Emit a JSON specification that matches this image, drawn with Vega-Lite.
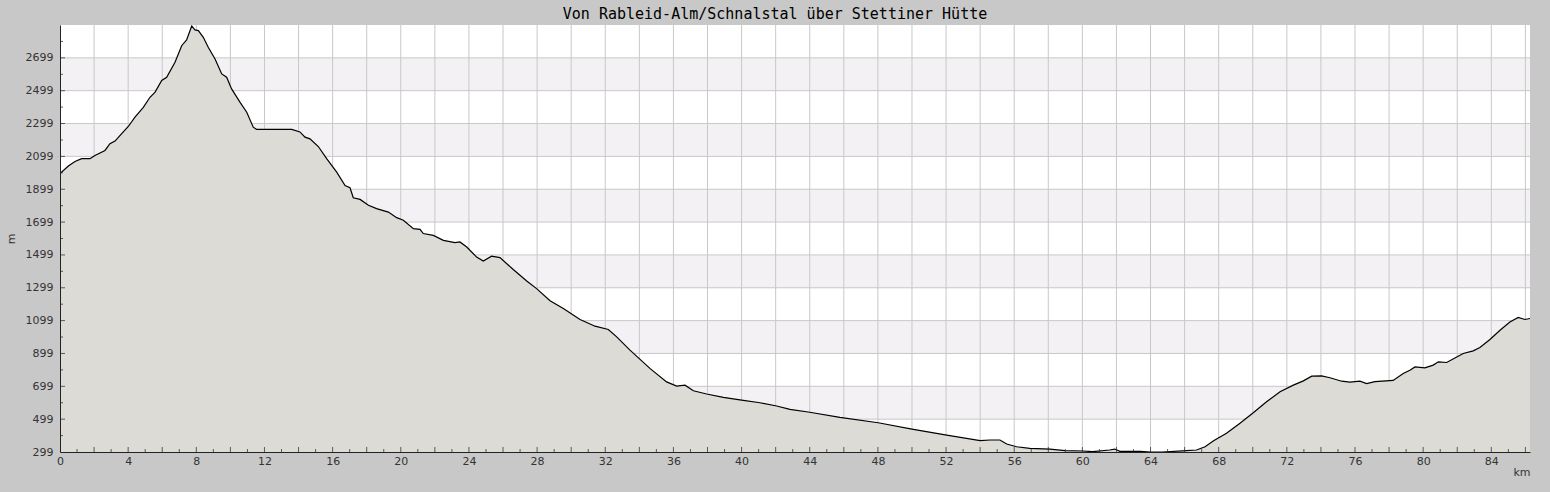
{
  "$schema": "https://vega.github.io/schema/vega-lite/v6.json",
  "width": 1470,
  "height": 427,
  "autosize": {"type": "none"},
  "padding": {"left": 60, "top": 25, "right": 20, "bottom": 40},
  "background": "#c8c8c8",
  "view": {"fill": "#ffffff", "stroke": null},
  "config": {"axis": {"labelOverlap": false}},
  "title": {
    "text": "Von Rableid-Alm/Schnalstal über Stettiner Hütte",
    "font": "DejaVu Sans Mono",
    "fontSize": 15,
    "fontWeight": "normal",
    "color": "#000000",
    "anchor": "middle",
    "dx": -20,
    "offset": 3
  },
  "datasets": {
    "profile": [
      {"km": 0, "elev": 1995}, {"km": 0.49, "elev": 2040}, {"km": 0.88, "elev": 2068}, {"km": 1.27, "elev": 2085},
      {"km": 1.76, "elev": 2085}, {"km": 2.05, "elev": 2105}, {"km": 2.64, "elev": 2135}, {"km": 2.93, "elev": 2176},
      {"km": 3.23, "elev": 2192}, {"km": 3.62, "elev": 2237}, {"km": 4.01, "elev": 2281}, {"km": 4.4, "elev": 2338},
      {"km": 4.89, "elev": 2398}, {"km": 5.28, "elev": 2459}, {"km": 5.58, "elev": 2490}, {"km": 5.97, "elev": 2561},
      {"km": 6.26, "elev": 2581}, {"km": 6.75, "elev": 2672}, {"km": 7.14, "elev": 2773}, {"km": 7.43, "elev": 2808},
      {"km": 7.73, "elev": 2893}, {"km": 7.92, "elev": 2869}, {"km": 8.12, "elev": 2865}, {"km": 8.41, "elev": 2824},
      {"km": 8.7, "elev": 2763}, {"km": 9.1, "elev": 2692}, {"km": 9.49, "elev": 2601}, {"km": 9.78, "elev": 2581},
      {"km": 10.07, "elev": 2510}, {"km": 10.56, "elev": 2429}, {"km": 10.96, "elev": 2368}, {"km": 11.34, "elev": 2277},
      {"km": 11.54, "elev": 2263}, {"km": 13.6, "elev": 2263}, {"km": 14.08, "elev": 2248}, {"km": 14.38, "elev": 2216},
      {"km": 14.67, "elev": 2206}, {"km": 15.16, "elev": 2159}, {"km": 15.65, "elev": 2085}, {"km": 16.24, "elev": 2003},
      {"km": 16.73, "elev": 1922}, {"km": 17.02, "elev": 1908}, {"km": 17.21, "elev": 1847}, {"km": 17.61, "elev": 1837},
      {"km": 18.1, "elev": 1801}, {"km": 18.58, "elev": 1781}, {"km": 19.27, "elev": 1760}, {"km": 19.76, "elev": 1726},
      {"km": 20.15, "elev": 1710}, {"km": 20.74, "elev": 1659}, {"km": 21.13, "elev": 1655}, {"km": 21.32, "elev": 1629},
      {"km": 21.91, "elev": 1618}, {"km": 22.5, "elev": 1588}, {"km": 23.18, "elev": 1574}, {"km": 23.47, "elev": 1578},
      {"km": 23.87, "elev": 1547}, {"km": 24.45, "elev": 1486}, {"km": 24.84, "elev": 1462}, {"km": 25.33, "elev": 1491},
      {"km": 25.82, "elev": 1483}, {"km": 26.6, "elev": 1410}, {"km": 27.39, "elev": 1340}, {"km": 27.97, "elev": 1294},
      {"km": 28.76, "elev": 1220}, {"km": 29.54, "elev": 1173}, {"km": 30.52, "elev": 1106}, {"km": 31.4, "elev": 1065},
      {"km": 32.18, "elev": 1045}, {"km": 32.67, "elev": 1000}, {"km": 33.45, "elev": 919}, {"km": 34.62, "elev": 808},
      {"km": 35.6, "elev": 726}, {"km": 36.19, "elev": 700}, {"km": 36.68, "elev": 706}, {"km": 37.17, "elev": 672},
      {"km": 37.95, "elev": 652}, {"km": 38.93, "elev": 632}, {"km": 40.0, "elev": 615}, {"km": 41.08, "elev": 599},
      {"km": 42.06, "elev": 579}, {"km": 42.84, "elev": 559}, {"km": 44.0, "elev": 541}, {"km": 45.77, "elev": 510},
      {"km": 48.02, "elev": 477}, {"km": 50.08, "elev": 437}, {"km": 52.04, "elev": 402}, {"km": 54.0, "elev": 368},
      {"km": 54.58, "elev": 372}, {"km": 55.16, "elev": 372}, {"km": 55.56, "elev": 348}, {"km": 56.14, "elev": 331},
      {"km": 56.92, "elev": 321}, {"km": 58.1, "elev": 317}, {"km": 58.98, "elev": 307}, {"km": 60.05, "elev": 305},
      {"km": 60.6, "elev": 301}, {"km": 61.6, "elev": 311}, {"km": 61.9, "elev": 317}, {"km": 62.2, "elev": 303},
      {"km": 63.4, "elev": 303}, {"km": 64.0, "elev": 299}, {"km": 64.7, "elev": 299}, {"km": 66.1, "elev": 307},
      {"km": 66.7, "elev": 311}, {"km": 67.2, "elev": 331}, {"km": 67.7, "elev": 368}, {"km": 68.46, "elev": 413},
      {"km": 69.25, "elev": 474}, {"km": 70.03, "elev": 538}, {"km": 70.81, "elev": 605}, {"km": 71.6, "elev": 666},
      {"km": 72.38, "elev": 706}, {"km": 72.97, "elev": 732}, {"km": 73.46, "elev": 761}, {"km": 74.04, "elev": 763},
      {"km": 74.53, "elev": 751}, {"km": 75.22, "elev": 730}, {"km": 75.7, "elev": 724}, {"km": 76.29, "elev": 730},
      {"km": 76.68, "elev": 716}, {"km": 77.17, "elev": 728}, {"km": 78.24, "elev": 735}, {"km": 78.83, "elev": 777},
      {"km": 79.22, "elev": 797}, {"km": 79.52, "elev": 817}, {"km": 80.1, "elev": 811}, {"km": 80.59, "elev": 828},
      {"km": 80.89, "elev": 848}, {"km": 81.38, "elev": 844}, {"km": 81.97, "elev": 878}, {"km": 82.35, "elev": 899},
      {"km": 82.94, "elev": 915}, {"km": 83.33, "elev": 935}, {"km": 83.92, "elev": 984}, {"km": 84.51, "elev": 1040},
      {"km": 85.09, "elev": 1091}, {"km": 85.58, "elev": 1118}, {"km": 85.97, "elev": 1106}, {"km": 86.27, "elev": 1112}
    ],
    "bands": [
      {"lo": 499, "hi": 699}, {"lo": 899, "hi": 1099}, {"lo": 1299, "hi": 1499},
      {"lo": 1699, "hi": 1899}, {"lo": 2099, "hi": 2299}, {"lo": 2499, "hi": 2699}
    ],
    "vgrid": [
      {"km": 0}, {"km": 2}, {"km": 4}, {"km": 6}, {"km": 8}, {"km": 10}, {"km": 12}, {"km": 14}, {"km": 16}, {"km": 18},
      {"km": 20}, {"km": 22}, {"km": 24}, {"km": 26}, {"km": 28}, {"km": 30}, {"km": 32}, {"km": 34}, {"km": 36}, {"km": 38},
      {"km": 40}, {"km": 42}, {"km": 44}, {"km": 46}, {"km": 48}, {"km": 50}, {"km": 52}, {"km": 54}, {"km": 56}, {"km": 58},
      {"km": 60}, {"km": 62}, {"km": 64}, {"km": 66}, {"km": 68}, {"km": 70}, {"km": 72}, {"km": 74}, {"km": 76}, {"km": 78},
      {"km": 80}, {"km": 82}, {"km": 84}, {"km": 86}
    ],
    "xminor": [
      {"km": 1}, {"km": 3}, {"km": 5}, {"km": 7}, {"km": 9}, {"km": 11}, {"km": 13}, {"km": 15}, {"km": 17}, {"km": 19},
      {"km": 21}, {"km": 23}, {"km": 25}, {"km": 27}, {"km": 29}, {"km": 31}, {"km": 33}, {"km": 35}, {"km": 37}, {"km": 39},
      {"km": 41}, {"km": 43}, {"km": 45}, {"km": 47}, {"km": 49}, {"km": 51}, {"km": 53}, {"km": 55}, {"km": 57}, {"km": 59},
      {"km": 61}, {"km": 63}, {"km": 65}, {"km": 67}, {"km": 69}, {"km": 71}, {"km": 73}, {"km": 75}, {"km": 77}, {"km": 79},
      {"km": 81}, {"km": 83}, {"km": 85}
    ],
    "hgrid": [
      {"elev": 499}, {"elev": 699}, {"elev": 899}, {"elev": 1099}, {"elev": 1299}, {"elev": 1499},
      {"elev": 1699}, {"elev": 1899}, {"elev": 2099}, {"elev": 2299}, {"elev": 2499}, {"elev": 2699}
    ],
    "yminor": [
      {"elev": 399}, {"elev": 599}, {"elev": 799}, {"elev": 999}, {"elev": 1199}, {"elev": 1399}, {"elev": 1599},
      {"elev": 1799}, {"elev": 1999}, {"elev": 2199}, {"elev": 2399}, {"elev": 2599}, {"elev": 2799}
    ]
  },
  "layer": [
    {
      "data": {"name": "bands"},
      "mark": {"type": "rect", "color": "#f3f1f4"},
      "encoding": {
        "y": {"field": "lo", "type": "quantitative", "scale": {"domain": [299, 2899], "nice": false, "zero": false}},
        "y2": {"field": "hi"}
      }
    },
    {
      "data": {"name": "vgrid"},
      "mark": {"type": "rule", "color": "#c8c8c8", "strokeWidth": 1},
      "encoding": {
        "x": {"field": "km", "type": "quantitative", "scale": {"domain": [0, 86.27], "nice": false, "zero": false}}
      }
    },
    {
      "data": {"name": "hgrid"},
      "mark": {"type": "rule", "color": "#c8c8c8", "strokeWidth": 1},
      "encoding": {
        "y": {"field": "elev", "type": "quantitative"}
      }
    },
    {
      "data": {"name": "profile"},
      "mark": {"type": "area", "color": "#dcdbd6", "clip": true},
      "encoding": {
        "x": {
          "field": "km", "type": "quantitative",
          "axis": {
            "title": "km",
            "titleAnchor": "end",
            "titleAlign": "right",
            "titleFont": "DejaVu Sans",
            "titleFontSize": 11,
            "titleFontWeight": "normal",
            "titleColor": "#333333",
            "titlePadding": 0,
            "values": [0,4,8,12,16,20,24,28,32,36,40,44,48,52,56,60,64,68,72,76,80,84],
            "tickCount": 100,
            "format": "d",
            "grid": false,
            "ticks": false,
            "zindex": 1,
            "domainColor": "#222222",
            "labelFont": "DejaVu Sans",
            "labelFontSize": 11,
            "labelColor": "#333333",
            "labelPadding": 3,
            "labelFlush": false,
            "labelOverlap": false
          }
        },
        "y": {
          "field": "elev", "type": "quantitative",
          "axis": {
            "title": "m",
            "titleFont": "DejaVu Sans",
            "titleFontSize": 11,
            "titleFontWeight": "normal",
            "titleColor": "#333333",
            "titlePadding": 9,
            "values": [299,499,699,899,1099,1299,1499,1699,1899,2099,2299,2499,2699],
            "tickCount": 100,
            "format": "d",
            "grid": false,
            "ticks": false,
            "zindex": 1,
            "domainColor": "#222222",
            "labelFont": "DejaVu Sans",
            "labelFontSize": 11,
            "labelColor": "#333333",
            "labelPadding": 7,
            "labelOverlap": false
          }
        }
      }
    },
    {
      "data": {"name": "profile"},
      "mark": {"type": "line", "color": "#000000", "strokeWidth": 1.2, "clip": true},
      "encoding": {
        "x": {"field": "km", "type": "quantitative"},
        "y": {"field": "elev", "type": "quantitative"}
      }
    },
    {
      "data": {"name": "vgrid"},
      "mark": {"type": "tick", "orient": "vertical", "size": 10, "thickness": 1, "color": "#222222", "clip": true},
      "encoding": {
        "x": {"field": "km", "type": "quantitative"},
        "y": {"datum": 299, "type": "quantitative"}
      }
    },
    {
      "data": {"name": "xminor"},
      "mark": {"type": "tick", "orient": "vertical", "size": 6, "thickness": 1, "color": "#222222", "clip": true},
      "encoding": {
        "x": {"field": "km", "type": "quantitative"},
        "y": {"datum": 299, "type": "quantitative"}
      }
    },
    {
      "data": {"name": "hgrid"},
      "mark": {"type": "tick", "orient": "horizontal", "size": 10, "thickness": 1, "color": "#222222", "clip": true},
      "encoding": {
        "y": {"field": "elev", "type": "quantitative"},
        "x": {"datum": 0, "type": "quantitative"}
      }
    },
    {
      "data": {"name": "yminor"},
      "mark": {"type": "tick", "orient": "horizontal", "size": 6, "thickness": 1, "color": "#222222", "clip": true},
      "encoding": {
        "y": {"field": "elev", "type": "quantitative"},
        "x": {"datum": 0, "type": "quantitative"}
      }
    }
  ]
}
